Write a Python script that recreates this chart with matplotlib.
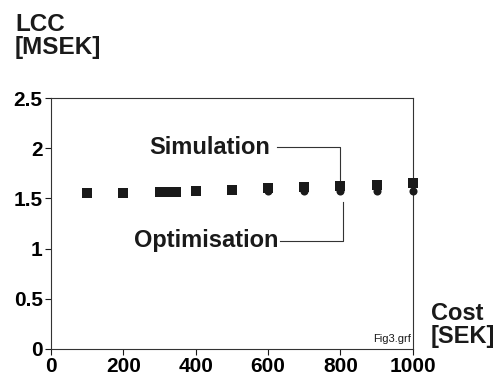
# fig3.py
# LCC versus cost: simulation and optimisation results

import matplotlib
matplotlib.use('Agg')
import matplotlib.pyplot as plt

plt.rcParams['font.family'] = ['Liberation Sans', 'DejaVu Sans']

# Simulation results (squares)
sim_cost = [100, 200, 300, 315, 330, 345, 400, 500, 600, 700, 800, 900, 1000]
sim_lcc = [1.55, 1.555, 1.565, 1.565, 1.565, 1.567, 1.575, 1.585, 1.60, 1.61, 1.62, 1.635, 1.65]

# Optimisation results (dots)
opt_cost = [600, 700, 800, 900, 1000]
opt_lcc = [1.57, 1.57, 1.57, 1.575, 1.575]

x_ticks = [0, 200, 400, 600, 800, 1000]
y_ticks = [0, 0.5, 1, 1.5, 2, 2.5]
y_ticklabels = ['0', '0.5', '1', '1.5', '2', '2.5']

ink = '#1a1a1a'

fig = plt.figure(figsize=(4.98, 3.8), dpi=100)
ax = fig.add_axes([0.1024, 0.0816, 0.7266, 0.6605])

ax.plot(opt_cost, opt_lcc, 'o', color=ink, markersize=5.8, markeredgewidth=0, clip_on=False, zorder=3)
ax.plot(sim_cost, sim_lcc, 's', color=ink, markersize=6.8, markeredgewidth=0, clip_on=False, zorder=3)

ax.set_xlim(0, 1000)
ax.set_ylim(0, 2.5)
ax.set_xticks(x_ticks)
ax.set_xticklabels([str(v) for v in x_ticks])
ax.set_yticks(y_ticks)
ax.set_yticklabels(y_ticklabels)
ax.tick_params(direction='out', length=4, width=0.8, color=ink, labelsize=15, pad=2)
for lab in ax.get_xticklabels() + ax.get_yticklabels():
    lab.set_fontweight('bold')
for s in ax.spines.values():
    s.set_linewidth(0.8)
    s.set_color('#333333')

# leader lines for the labels
ax.plot([624, 800, 800], [2.01, 2.01, 1.68], color='#333333', lw=0.8)
ax.plot([633, 808, 808], [1.076, 1.076, 1.46], color='#333333', lw=0.8)
ax.text(605, 2.01, 'Simulation', ha='right', va='center', fontsize=17, fontweight='bold', color=ink)
ax.text(630, 1.076, 'Optimisation', ha='right', va='center', fontsize=17, fontweight='bold', color=ink)

ax.text(0.995, 0.02, 'Fig3.grf', transform=ax.transAxes, ha='right', va='bottom', fontsize=8, color=ink)

# axis titles
fig.text(0.03, 0.965, 'LCC\n[MSEK]', ha='left', va='top', fontsize=17.5, fontweight='bold',
         color=ink, linespacing=1.0)
fig.text(0.865, 0.205, 'Cost\n[SEK]', ha='left', va='top', fontsize=17, fontweight='bold',
         color=ink, linespacing=1.0)

plt.savefig('out.png', dpi=100)
plt.close()
